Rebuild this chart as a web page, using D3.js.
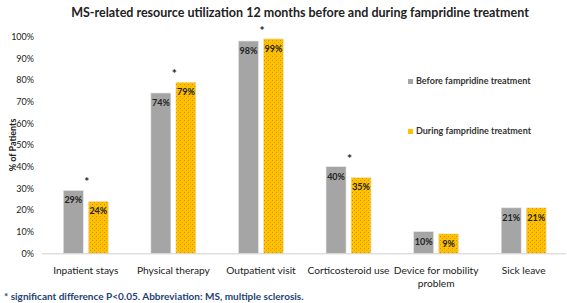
<!DOCTYPE html>
<html>
<head>
<meta charset="utf-8">
<script src="https://cdn.jsdelivr.net/npm/d3@7"></script>
<style>
  body { margin: 0; background: #ffffff; }
  svg { font-family: Lato, "Open Sans", sans-serif; }
</style>
</head>
<body>
<div id="chart"></div>
<script>
// Data
const categories = ["Inpatient stays", "Physical therapy", "Outpatient visit", "Corticosteroid use", "Device for mobility problem", "Sick leave"];
const seriesNames = ["Before fampridine treatment", "During fampridine treatment"];
const beforeValues = [29, 74, 98, 40, 10, 21];
const duringValues = [24, 79, 99, 35, 9, 21];
const significant = [true, true, true, true, false, false];
const yTicks = [0, 10, 20, 30, 40, 50, 60, 70, 80, 90, 100];

const W = 567, H = 303;
const margin = { top: 37, right: 0, bottom: 50, left: 42 };

const svg = d3.select("#chart")
    .append("svg")
    .attr("width", W)
    .attr("height", H);

// dotted pattern for yellow bars
const defs = svg.append("defs");
const pat = defs.append("pattern")
    .attr("id", "dots")
    .attr("patternUnits", "userSpaceOnUse")
    .attr("width", 4)
    .attr("height", 4);
pat.append("rect").attr("width", 4).attr("height", 4).attr("fill", "#FFC000");
pat.append("rect").attr("x", 0).attr("y", 0).attr("width", 1).attr("height", 1).attr("fill", "#c99400");
pat.append("rect").attr("x", 2).attr("y", 2).attr("width", 1).attr("height", 1).attr("fill", "#d9a200");

const x = d3.scaleBand()
    .domain(categories)
    .range([margin.left, 567.5])
    .paddingInner(0)
    .paddingOuter(0);

const y = d3.scaleLinear()
    .domain([0, 100])
    .range([253.3, 36.7]);

const barW = 20, gap = 5;
const colors = ["#A5A5A5", "url(#dots)"];

// Title
svg.append("text")
    .attr("x", 300)
    .attr("y", 17)
    .attr("text-anchor", "middle")
    .attr("font-size", "12.5px")
    .attr("font-weight", "bold")
    .attr("fill", "#222")
    .text("MS-related resource utilization 12 months before and during fampridine treatment");

// Y axis (labels only)
const yAxis = svg.append("g")
    .attr("transform", `translate(${margin.left},0)`)
    .call(d3.axisLeft(y).tickValues(yTicks).tickFormat(d => d + "%").tickSize(0).tickPadding(8));
yAxis.select(".domain").remove();
yAxis.selectAll("text")
    .attr("font-family", "Lato, sans-serif")
    .attr("font-size", "9px")
    .attr("fill", "#222");

svg.append("text")
    .attr("transform", "rotate(-90)")
    .attr("x", -145)
    .attr("y", 16)
    .attr("text-anchor", "middle")
    .attr("font-size", "9px")
    .attr("font-weight", "bold")
    .attr("fill", "#222")
    .text("% of Patients");

// Bars
[beforeValues, duringValues].forEach((vals, s) => {
    const xPos = (c) => x(c) + x.bandwidth() / 2 + (s === 0 ? -(barW + gap / 2) : gap / 2);
    svg.selectAll(".bar" + s)
        .data(categories)
        .enter()
        .append("rect")
        .attr("class", "bar" + s)
        .attr("x", c => xPos(c))
        .attr("y", (c, i) => y(vals[i]))
        .attr("width", barW)
        .attr("height", (c, i) => y(0) - y(vals[i]))
        .attr("fill", colors[s])
        .attr("stroke", "#e6e6e6")
        .attr("stroke-width", 0.6);

    svg.selectAll(".lab" + s)
        .data(categories)
        .enter()
        .append("text")
        .attr("class", "lab" + s)
        .attr("x", c => xPos(c) + barW / 2)
        .attr("y", (c, i) => y(vals[i]) + 13)
        .attr("text-anchor", "middle")
        .attr("font-size", "9px")
        .attr("font-weight", "bold")
        .attr("fill", "#222")
        .text((c, i) => vals[i] + "%");
});

// significance asterisks
svg.selectAll(".star")
    .data(categories.filter((c, i) => significant[i]))
    .enter()
    .append("text")
    .attr("class", "star")
    .attr("x", c => x(c) + x.bandwidth() / 2 + 1)
    .attr("y", c => {
        const i = categories.indexOf(c);
        return y(Math.max(beforeValues[i], duringValues[i])) - 4;
    })
    .attr("text-anchor", "middle")
    .attr("font-size", "12px")
    .attr("font-weight", "bold")
    .attr("fill", "#222")
    .text("*");

// X axis line
svg.append("line")
    .attr("x1", margin.left)
    .attr("x2", 566)
    .attr("y1", y(0) + 0.5)
    .attr("y2", y(0) + 0.5)
    .attr("stroke", "#d0d0d0")
    .attr("stroke-width", 1);

// Category labels (wrap the long one)
const catLines = {
    "Device for mobility problem": ["Device for mobility", "problem"]
};
categories.forEach(c => {
    const lines = catLines[c] || [c];
    const t = svg.append("text")
        .attr("x", x(c) + x.bandwidth() / 2)
        .attr("y", 274)
        .attr("text-anchor", "middle")
        .attr("font-size", "10.2px")
        .attr("fill", "#222");
    lines.forEach((l, k) => {
        t.append("tspan")
            .attr("x", x(c) + x.bandwidth() / 2)
            .attr("dy", k === 0 ? 0 : 13)
            .text(l);
    });
});

// Legend
const legend = svg.append("g").attr("transform", "translate(408,79)");
seriesNames.forEach((n, i) => {
    const g = legend.append("g").attr("transform", `translate(0,${i * 50})`);
    g.append("rect")
        .attr("width", 5)
        .attr("height", 5)
        .attr("fill", i === 0 ? "#A5A5A5" : "#FFC000");
    g.append("text")
        .attr("x", 8)
        .attr("y", 5)
        .attr("font-size", "9px")
        .attr("font-weight", "bold")
        .attr("fill", "#333")
        .text(n);
});

// Footnote
svg.append("text")
    .attr("x", 4)
    .attr("y", 300)
    .attr("font-size", "10px")
    .attr("font-weight", "bold")
    .attr("fill", "#1F3F77")
    .text("* significant difference P<0.05. Abbreviation: MS, multiple sclerosis.");
</script>
</body>
</html>
